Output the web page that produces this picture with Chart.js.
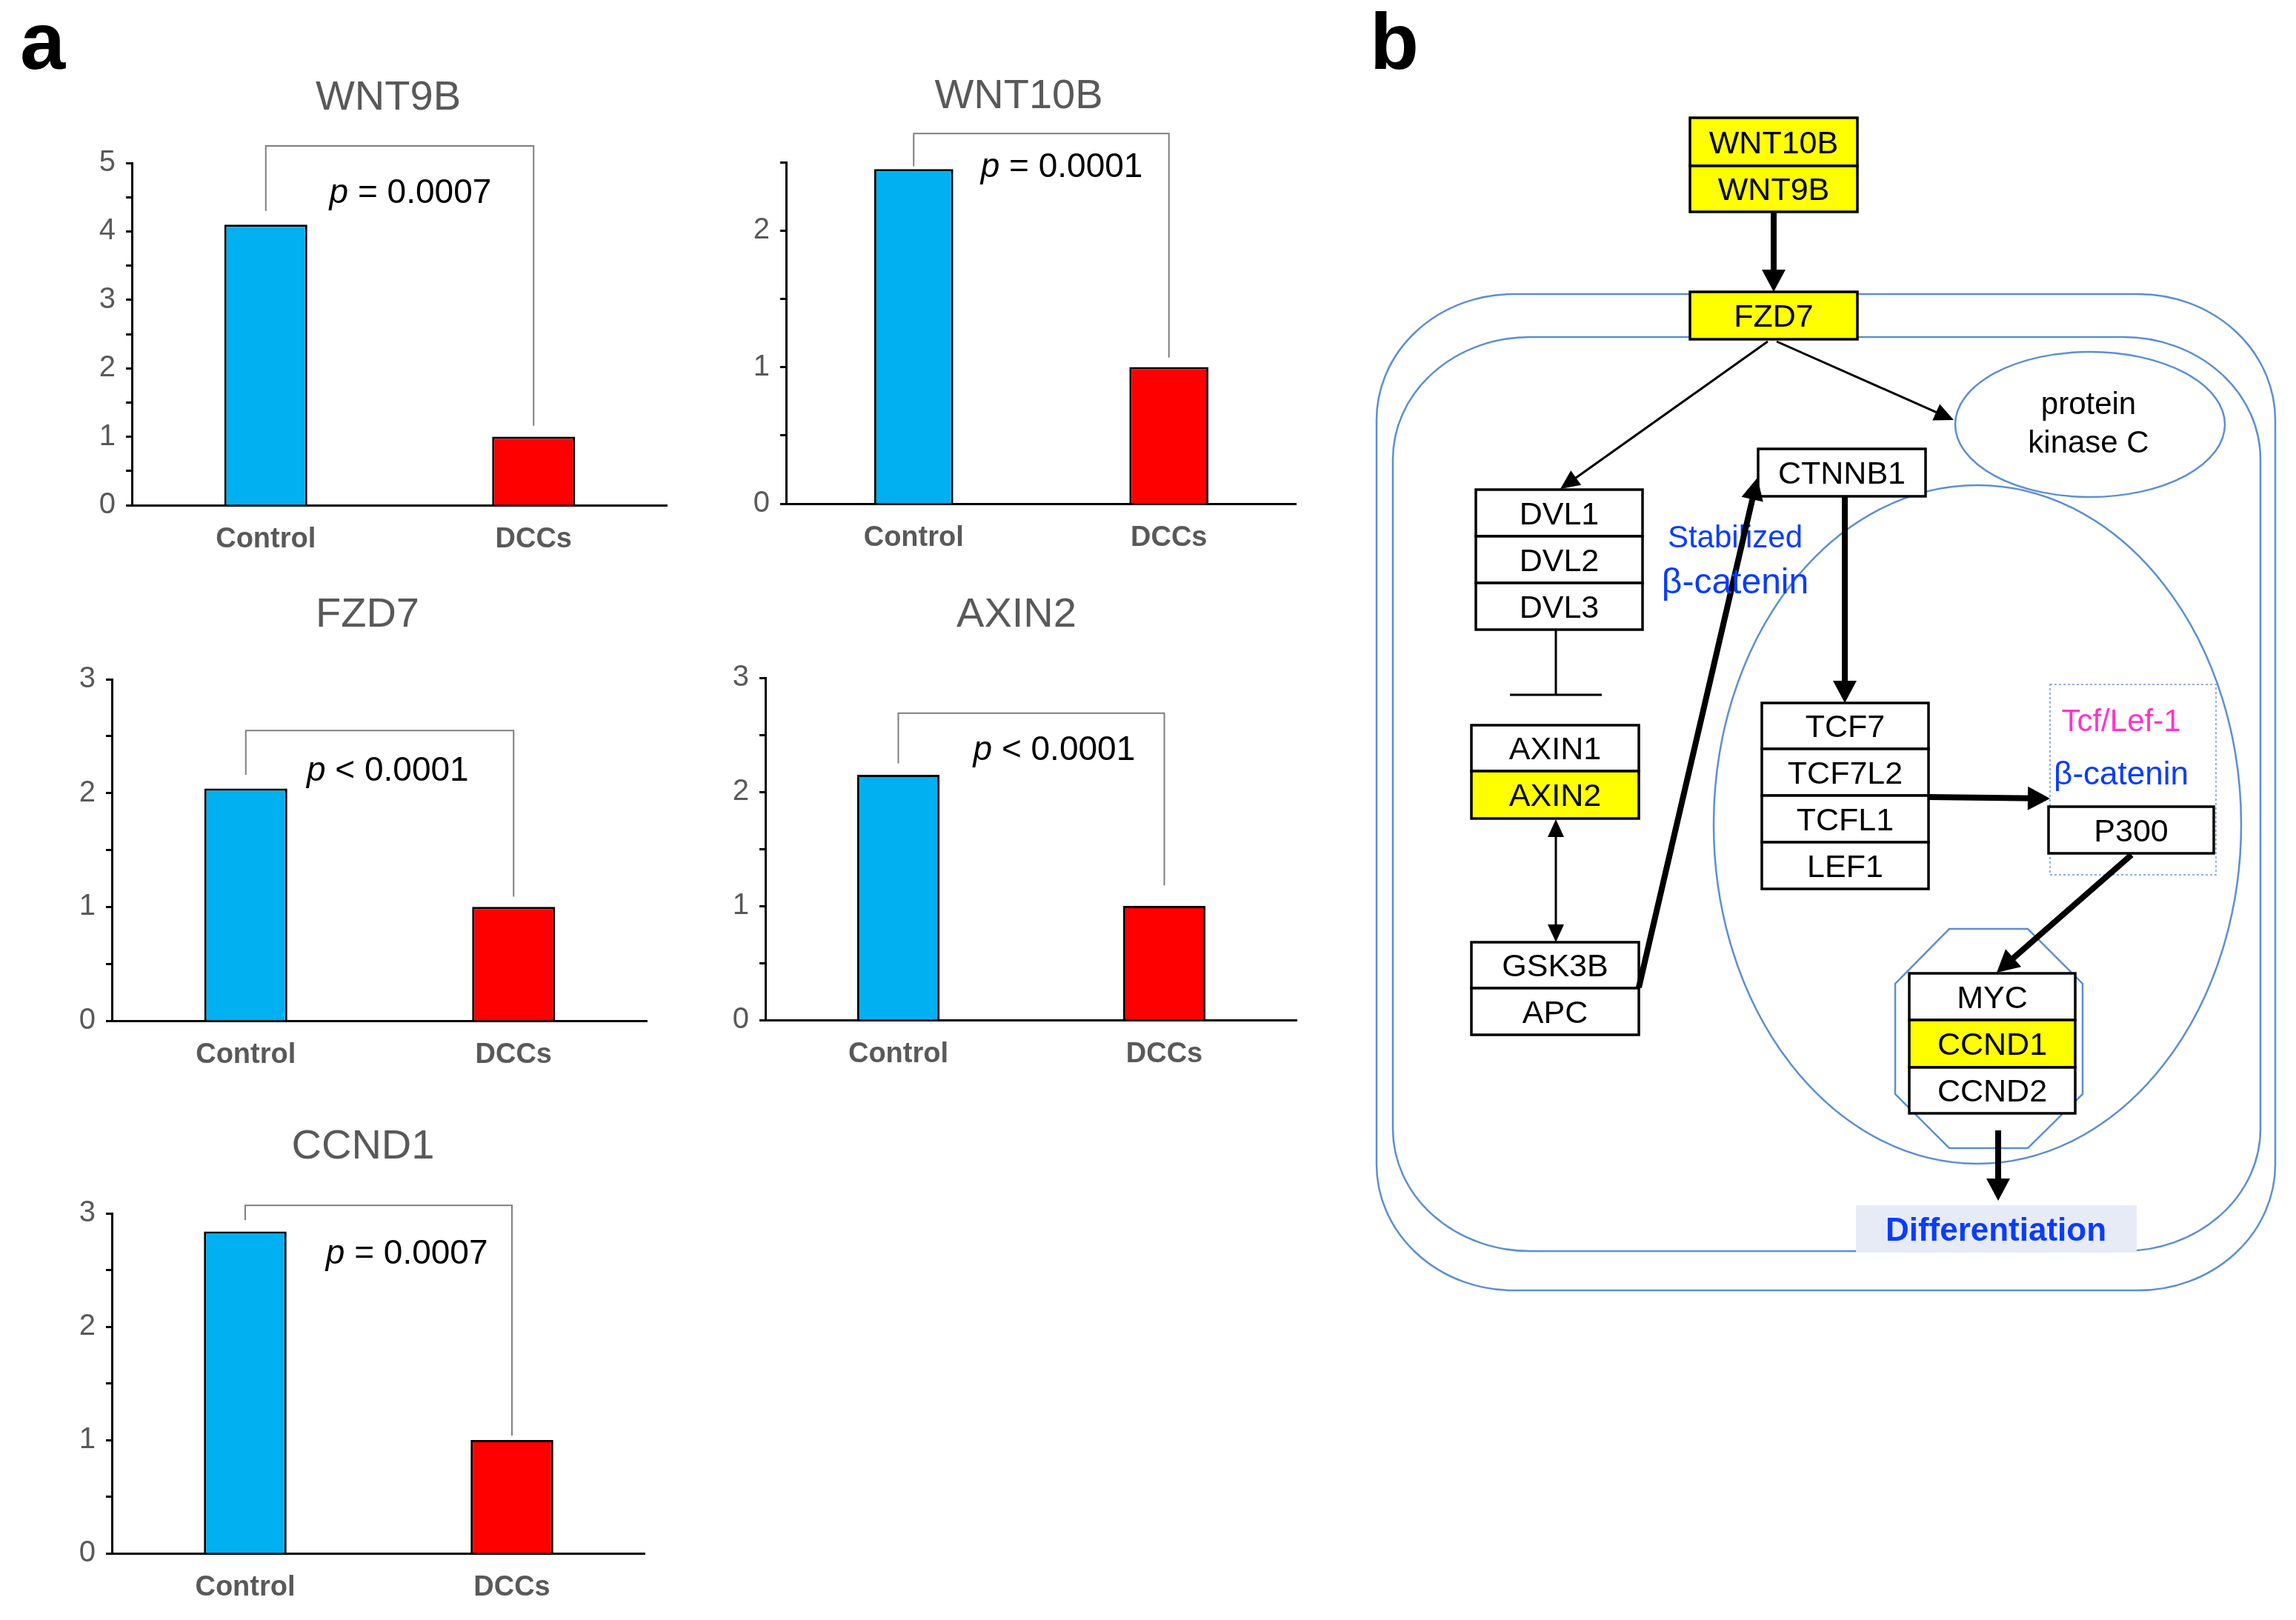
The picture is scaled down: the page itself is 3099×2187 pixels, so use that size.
<!DOCTYPE html>
<html>
<head>
<meta charset="utf-8">
<title>Wnt pathway genes: Control vs DCCs</title>
<script src="https://cdn.jsdelivr.net/npm/chart.js"></script>
<style>
  body { margin: 0; background: #fff; }
  #page { position: relative; width: 3099px; height: 2187px; overflow: hidden; background: #fff; }
  #page canvas { position: absolute; }
  #overlay { position: absolute; left: 0; top: 0; }
  #overlay text { font-family: 'Liberation Sans', Arial, sans-serif; }
</style>
</head>
<body>
<div id="page">
  <svg id="overlay" width="3099" height="2187"></svg>
</div>
<script>
// ---- data (relative expression, DCCs = 1) ----
var groups = ['Control', 'DCCs'];
var genes = ['WNT9B', 'WNT10B', 'FZD7', 'AXIN2', 'CCND1'];
var controlValues = [4.1, 2.45, 2.04, 2.15, 2.84];
var dccValues = [1.0, 1.0, 1.0, 1.0, 1.0];
var yMaxValues = [5, 2.5, 3, 3, 3];
var pSigns = ['=', '=', '<', '<', '='];
var pValues = ['0.0007', '0.0001', '0.0001', '0.0001', '0.0007'];

// bracket levels (data units) and p label placement
var bracketTop = [5.25, 2.71, 2.55, 2.69, 3.07];
var bracketLeftEnd = [4.30, 2.47, 2.16, 2.25, 2.94];
var bracketRightEnd = [1.16, 1.07, 1.09, 1.18, 1.04];
var pLabelY = [4.55, 2.46, 2.19, 2.36, 2.64];
var pLabelX = [0.52, 0.54, 0.515, 0.543, 0.553];

// where each plot area sits on the page (px)
var panels = [
  { axisX: 178,  axisEnd: 901,  maxPx: 220,  zeroPx: 682,  titleX: 524,  titleY: 148 },
  { axisX: 1061, axisEnd: 1750, maxPx: 219,  zeroPx: 680,  titleX: 1375, titleY: 146 },
  { axisX: 151,  axisEnd: 874,  maxPx: 917,  zeroPx: 1378, titleX: 496,  titleY: 846 },
  { axisX: 1033, axisEnd: 1751, maxPx: 915,  zeroPx: 1377, titleX: 1372, titleY: 846 },
  { axisX: 151,  axisEnd: 871,  maxPx: 1638, zeroPx: 2097, titleX: 490,  titleY: 1564 }
];

var FONT = "'Liberation Sans', Arial, sans-serif";
Chart.defaults.font.family = FONT;
var AXIS_W = 100, AXIS_H = 100, PAD_TOP = 130;

var bracketPlugin = {
  id: 'bracket',
  afterDraw: function (chart, args, opts) {
    var ctx = chart.ctx, x = chart.scales.x, y = chart.scales.y, area = chart.chartArea;
    var x0 = x.getPixelForValue(0), x1 = x.getPixelForValue(1);
    ctx.save();
    ctx.strokeStyle = '#7f7f7f';
    ctx.lineWidth = 2;
    ctx.beginPath();
    ctx.moveTo(x0, y.getPixelForValue(opts.left));
    ctx.lineTo(x0, y.getPixelForValue(opts.top));
    ctx.lineTo(x1, y.getPixelForValue(opts.top));
    ctx.lineTo(x1, y.getPixelForValue(opts.right));
    ctx.stroke();

    var rest = ' ' + opts.sign + ' ' + opts.value;
    ctx.font = 'italic 46px ' + FONT;
    var wp = ctx.measureText('p').width;
    ctx.font = '46px ' + FONT;
    var wr = ctx.measureText(rest).width;
    var cx = area.left + opts.xFrac * (area.right - area.left);
    var cy = y.getPixelForValue(opts.yVal);
    var sx = cx - (wp + wr) / 2;
    ctx.fillStyle = '#000';
    ctx.textBaseline = 'middle';
    ctx.textAlign = 'left';
    ctx.font = 'italic 46px ' + FONT;
    ctx.fillText('p', sx, cy);
    ctx.font = '46px ' + FONT;
    ctx.fillText(rest, sx + wp, cy);
    ctx.restore();
  }
};

var page = document.getElementById('page');
var charts = [];

for (var i = 0; i < genes.length; i++) {
  var pn = panels[i];
  var cv = document.createElement('canvas');
  var w = AXIS_W + (pn.axisEnd - pn.axisX);
  var h = PAD_TOP + (pn.zeroPx - pn.maxPx) + AXIS_H;
  cv.width = w; cv.height = h;
  cv.style.width = w + 'px'; cv.style.height = h + 'px';
  cv.style.left = (pn.axisX - AXIS_W) + 'px';
  cv.style.top = (pn.maxPx - PAD_TOP) + 'px';
  page.insertBefore(cv, document.getElementById('overlay'));

  charts.push(new Chart(cv.getContext('2d'), {
    type: 'bar',
    data: {
      labels: groups,
      datasets: [{
        data: [controlValues[i], dccValues[i]],
        backgroundColor: ['#00b0f0', '#ff0000'],
        borderColor: '#000',
        borderWidth: 3,
        barPercentage: 0.31,
        categoryPercentage: 1
      }]
    },
    options: {
      responsive: false,
      animation: false,
      devicePixelRatio: 1,
      layout: { padding: { top: PAD_TOP, left: 0, right: 0, bottom: 0 } },
      plugins: {
        legend: { display: false },
        tooltip: { enabled: false },
        bracket: {
          top: bracketTop[i], left: bracketLeftEnd[i], right: bracketRightEnd[i],
          sign: pSigns[i], value: pValues[i], xFrac: pLabelX[i], yVal: pLabelY[i]
        }
      },
      scales: {
        x: {
          z: 1,
          grid: { display: false },
          border: { display: true, color: '#000', width: 3 },
          ticks: { color: '#595959', padding: 16, font: { size: 38, weight: 'bold' } },
          afterFit: function (s) { s.height = AXIS_H; }
        },
        y: {
          min: 0,
          max: yMaxValues[i],
          grid: { drawOnChartArea: false, drawTicks: true, tickLength: 8, tickColor: '#000', tickWidth: 3 },
          border: { display: true, color: '#000', width: 3 },
          ticks: {
            stepSize: 0.5,
            autoSkip: false,
            color: '#595959',
            padding: 14,
            font: { size: 40 },
            callback: function (v) { return Number.isInteger(v) ? String(v) : ''; }
          },
          afterFit: function (s) { s.width = AXIS_W; }
        }
      }
    },
    plugins: [bracketPlugin]
  }));
}

// ---- text overlay and pathway diagram (panel b) ----
var svgNS = 'http://www.w3.org/2000/svg';
var svg = document.getElementById('overlay');
function el(tag, attrs, text) {
  var e = document.createElementNS(svgNS, tag);
  for (var k in attrs) e.setAttribute(k, attrs[k]);
  if (text !== undefined) e.textContent = text;
  svg.appendChild(e);
  return e;
}

el('text', { x: 27, y: 93, 'font-size': 110, 'font-weight': 'bold', fill: '#000' }, 'a');
el('text', { x: 1849, y: 93, 'font-size': 108, 'font-weight': 'bold', fill: '#000' }, 'b');
for (var t = 0; t < genes.length; t++) {
  el('text', { x: panels[t].titleX, y: panels[t].titleY, 'font-size': 56, fill: '#595959', 'text-anchor': 'middle' }, genes[t]);
}

var BLUE = '#5b8fd3';
el('rect', { x: 1858, y: 397, width: 1213, height: 1345, rx: 185, ry: 170, fill: 'none', stroke: BLUE, 'stroke-width': 2.5 });
el('rect', { x: 1880, y: 455, width: 1171, height: 1234, rx: 185, ry: 165, fill: 'none', stroke: BLUE, 'stroke-width': 2.5 });
el('ellipse', { cx: 2669, cy: 1113, rx: 356, ry: 458, fill: 'none', stroke: BLUE, 'stroke-width': 2.5 });
el('ellipse', { cx: 2821, cy: 573, rx: 182, ry: 98, fill: 'none', stroke: BLUE, 'stroke-width': 2.5 });
el('text', { x: 2819, y: 559, 'font-size': 42, 'text-anchor': 'middle', fill: '#000' }, 'protein');
el('text', { x: 2819, y: 611, 'font-size': 42, 'text-anchor': 'middle', fill: '#000' }, 'kinase C');
el('polygon', { points: '2631,1254 2737,1254 2811,1328 2811,1477 2737,1550 2631,1550 2558,1477 2558,1328', fill: 'none', stroke: BLUE, 'stroke-width': 2.5 });
el('rect', { x: 2767, y: 924, width: 224, height: 257, fill: 'none', stroke: '#8fb0e0', 'stroke-width': 2, 'stroke-dasharray': '3 3' });

function stack(x, y, w, rows) {
  var yy = y;
  rows.forEach(function (r) {
    el('rect', { x: x, y: yy, width: w, height: r[1], fill: r[2] || '#fff', stroke: '#000', 'stroke-width': 3.5 });
    el('text', { x: x + w / 2, y: yy + r[1] / 2 + 15, 'font-size': 43, 'text-anchor': 'middle', fill: '#000' }, r[0]);
    yy += r[1];
  });
}
var Y = '#ffff00';
stack(2281, 159, 226, [['WNT10B', 65, Y], ['WNT9B', 62, Y]]);
stack(2281, 394, 226, [['FZD7', 64, Y]]);
stack(2373, 606, 226, [['CTNNB1', 64]]);
stack(1992, 661, 225, [['DVL1', 63], ['DVL2', 63], ['DVL3', 63]]);
stack(1986, 979, 226, [['AXIN1', 62], ['AXIN2', 64, Y]]);
stack(1986, 1272, 226, [['GSK3B', 62], ['APC', 63]]);
stack(2378, 949, 225, [['TCF7', 62], ['TCF7L2', 63], ['TCFL1', 63], ['LEF1', 63]]);
stack(2765, 1089, 223, [['P300', 63]]);
stack(2577, 1314, 224, [['MYC', 63], ['CCND1', 64, Y], ['CCND2', 62]]);

el('text', { x: 2342, y: 739, 'font-size': 42, 'text-anchor': 'middle', fill: '#0a3cff' }, 'Stabilized');
el('text', { x: 2863, y: 987, 'font-size': 42, 'text-anchor': 'middle', fill: '#ff33cc' }, 'Tcf/Lef-1');
el('text', { x: 2863, y: 1059, 'font-size': 44, 'text-anchor': 'middle', fill: '#0a3cff' }, 'β-catenin');

function head(x, y, ux, uy, hl, hw) {
  var bx = x - ux * hl, by = y - uy * hl;
  el('polygon', { points: [x, y, bx - uy * hw, by + ux * hw, bx + uy * hw, by - ux * hw].join(' '), fill: '#000' });
}
function arrow(x1, y1, x2, y2, lw, hl, hw, both) {
  var dx = x2 - x1, dy = y2 - y1, len = Math.sqrt(dx * dx + dy * dy), ux = dx / len, uy = dy / len;
  var sx = both ? x1 + ux * hl * 0.6 : x1, sy = both ? y1 + uy * hl * 0.6 : y1;
  el('line', { x1: sx, y1: sy, x2: x2 - ux * hl * 0.6, y2: y2 - uy * hl * 0.6, stroke: '#000', 'stroke-width': lw });
  head(x2, y2, ux, uy, hl, hw);
  if (both) head(x1, y1, -ux, -uy, hl, hw);
}
arrow(2394, 286, 2394, 394, 8, 30, 16);
arrow(2386, 461, 2106, 660, 3, 26, 12);
arrow(2398, 461, 2637, 567, 3, 26, 12);
el('line', { x1: 2100, y1: 850, x2: 2100, y2: 938, stroke: '#000', 'stroke-width': 3 });
el('line', { x1: 2038, y1: 938, x2: 2162, y2: 938, stroke: '#000', 'stroke-width': 3 });
arrow(2100, 1106, 2100, 1272, 3, 24, 11, true);
arrow(2212, 1333, 2372, 645, 8, 30, 15);
arrow(2490, 670, 2490, 949, 8, 30, 16);
arrow(2603, 1076, 2767, 1078, 8, 30, 16);
arrow(2877, 1154, 2695, 1313, 8, 30, 16);
arrow(2697, 1526, 2697, 1621, 8, 30, 16);

// label over the arrow to CTNNB1 is drawn after it, like in the figure
el('text', { x: 2342, y: 801, 'font-size': 48, 'text-anchor': 'middle', fill: '#0a3cff' }, 'β-catenin');

el('rect', { x: 2505, y: 1627, width: 379, height: 64, fill: '#e7ebf6' });
el('text', { x: 2694, y: 1675, 'font-size': 44, 'font-weight': 'bold', 'text-anchor': 'middle', fill: '#0a3cff' }, 'Differentiation');
</script>
</body>
</html>
